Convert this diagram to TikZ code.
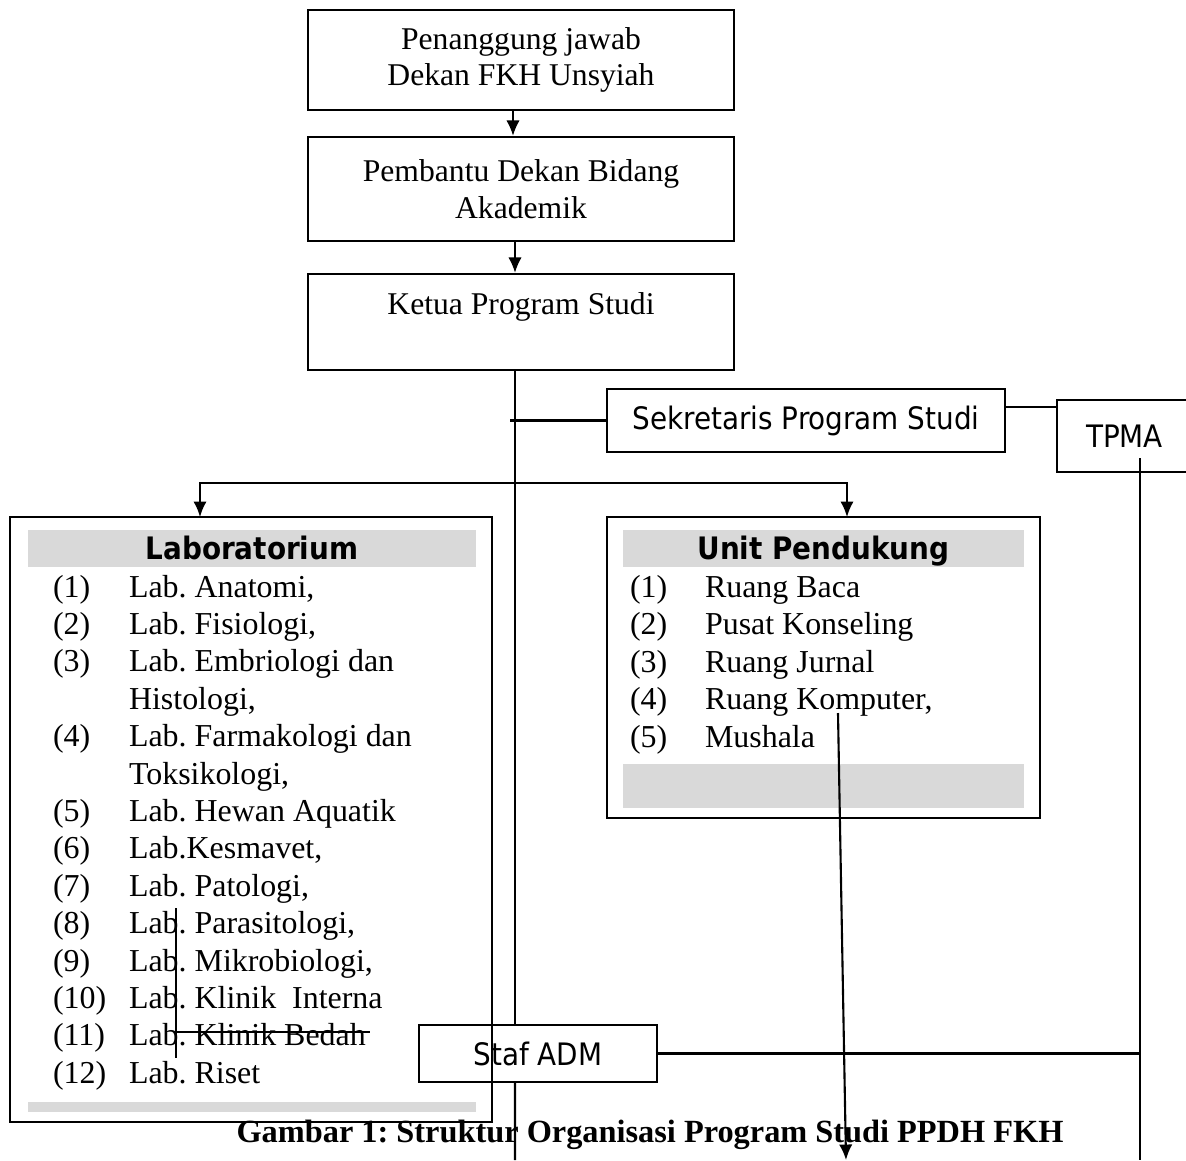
\documentclass[tikz,border=0pt]{standalone}
\usepackage{fontspec}
\setmainfont{Liberation Serif}
\newfontfamily\condsans{DejaVu Sans Condensed}
\usetikzlibrary{arrows.meta}
\definecolor{bandgray}{HTML}{D9D9D9}
\frenchspacing
\tikzset{
  topbox/.style={draw, minimum width=10.65cm, align=center, inner sep=0pt,
    font=\fontsize{22.5}{26}\selectfont},
  sidebox/.style={draw, fill=white, inner sep=0pt, font=\condsans\fontsize{22}{26}\selectfont},
  listbox/.style={draw, inner sep=0pt},
  band/.style={fill=bandgray, inner sep=0pt},
  headband/.style={band, text height=16pt, text depth=0pt,
    font=\condsans\bfseries\fontsize{22}{26}\selectfont},
  listitem/.style={anchor=base west, inner sep=0pt, font=\fontsize{22.7}{26}\selectfont},
}
\begin{document}
\begin{tikzpicture}[x=0.025cm, y=-0.025cm, >={Latex[length=11pt,width=9.5pt]}, line width=1.5pt]
\useasboundingbox (0,0) rectangle (1186,1160);
% chain at the top
\node[topbox, minimum height=2.5cm] (pj) at (521,60) {Penanggung jawab\\Dekan FKH Unsyiah};
\node[topbox, minimum height=2.6cm] (pd) at (521,189) {Pembantu Dekan Bidang\\Akademik};
\node[topbox, minimum height=2.4cm] (kps) at (521,322) {Ketua Program Studi\\~};
\draw[->] ([xshift=-2mm]pj.south) -- ([xshift=-2mm]pd.north);
\draw[->] ([xshift=-1.5mm]pd.south) -- ([xshift=-1.5mm]kps.north);

% side boxes
\node[sidebox, minimum width=9.95cm, minimum height=1.575cm] (sek) at (806,420.5) {Sekretaris Program Studi};
\node[sidebox, minimum width=3.375cm, minimum height=1.8cm] (tpma) at (1124.5,436) {TPMA};
\node[sidebox, minimum width=5.95cm, minimum height=1.425cm] (staf) at (538,1053.5) {Staf ADM};

% Laboratorium
\node[listbox, minimum width=12.05cm, minimum height=15.125cm] (lab) at (251,819.5) {};
\node[headband, minimum width=11.2cm, minimum height=0.925cm] (labhead) at (252,548.5) {Laboratorium};
\node[band, minimum width=11.2cm, minimum height=0.25cm] (labfoot) at (252,1107) {};
\foreach \num/\txt [count=\i from 0] in {{(1)}/{Lab. Anatomi,}, {(2)}/{Lab. Fisiologi,},
    {(3)}/{Lab. Embriologi dan}, {}/{Histologi,}, {(4)}/{Lab. Farmakologi dan},
    {}/{Toksikologi,}, {(5)}/{Lab. Hewan Aquatik}, {(6)}/{Lab.Kesmavet,},
    {(7)}/{Lab. Patologi,}, {(8)}/{Lab. Parasitologi,}, {(9)}/{Lab. Mikrobiologi,},
    {(10)}/{Lab. Klinik\ \ Interna}, {(11)}/{Lab. Klinik Bedah}, {(12)}/{Lab. Riset}} {
  \node[listitem] (labn-\i) at (52,{597+37.4*\i}) {\num};
  \node[listitem] (labt-\i) at (128,{597+37.4*\i}) {\txt};
}

% Unit Pendukung
\node[listbox, minimum width=10.825cm, minimum height=7.525cm] (unit) at (823.5,667.5) {};
\node[headband, minimum width=10.025cm, minimum height=0.925cm] (unithead) at (823.5,548.5) {Unit Pendukung};
\node[band, minimum width=10.025cm, minimum height=1.1cm] (unitfoot) at (823.5,785.5) {};
\foreach \num/\txt [count=\i from 0] in {{(1)}/{Ruang Baca}, {(2)}/{Pusat Konseling},
    {(3)}/{Ruang Jurnal}, {(4)}/{Ruang Komputer,}, {(5)}/{Mushala}} {
  \node[listitem] (unitn-\i) at (629,{597+37.5*\i}) {\num};
  \node[listitem] (unitt-\i) at (704,{597+37.5*\i}) {\txt};
}

\node[anchor=base, inner sep=0pt, font=\bfseries\fontsize{23}{26}\selectfont] (caption)
  at (650,1142) {Gambar 1: Struktur Organisasi Program Studi PPDH FKH};

% connectors
\coordinate (spine) at ([xshift=-1.5mm]kps.south);
\coordinate (spineend) at (515,1160);
\coordinate (sekl) at (510,420.5);
\coordinate (sekr) at ([yshift=3.4mm]sek.east);
\coordinate (bar) at (515,483);
\coordinate (labin) at (200,517);
\coordinate (unitin) at (847,517);
\coordinate (tpmad) at (1140,458);
\coordinate (tpmaend) at (1140,1160);
\coordinate (komp) at (838,713);
\coordinate (kompend) at (846,1160);
\coordinate (strikea) at (176,908);
\coordinate (strikeb) at (176,1058);
\coordinate (strikec) at (176,1032);
\coordinate (striked) at (370,1032);
\draw (spine) -- (spine |- staf.north);
\draw (spine |- staf.south) -- (spineend);
\draw (sekl) -- (sek.west);
\draw (sekr) -- (sekr -| tpma.west);
\draw[->] (bar) -| (labin);
\draw[->] (bar) -| (unitin);
\draw (tpmad) -- (tpmaend);
\draw (staf.east) -- (staf.east -| tpmad);
\draw[->] (komp) -- (kompend);
\draw[line width=1pt] (strikea) -- (strikeb);
\draw[line width=1pt] (strikec) -- (striked);
\end{tikzpicture}
\end{document}
